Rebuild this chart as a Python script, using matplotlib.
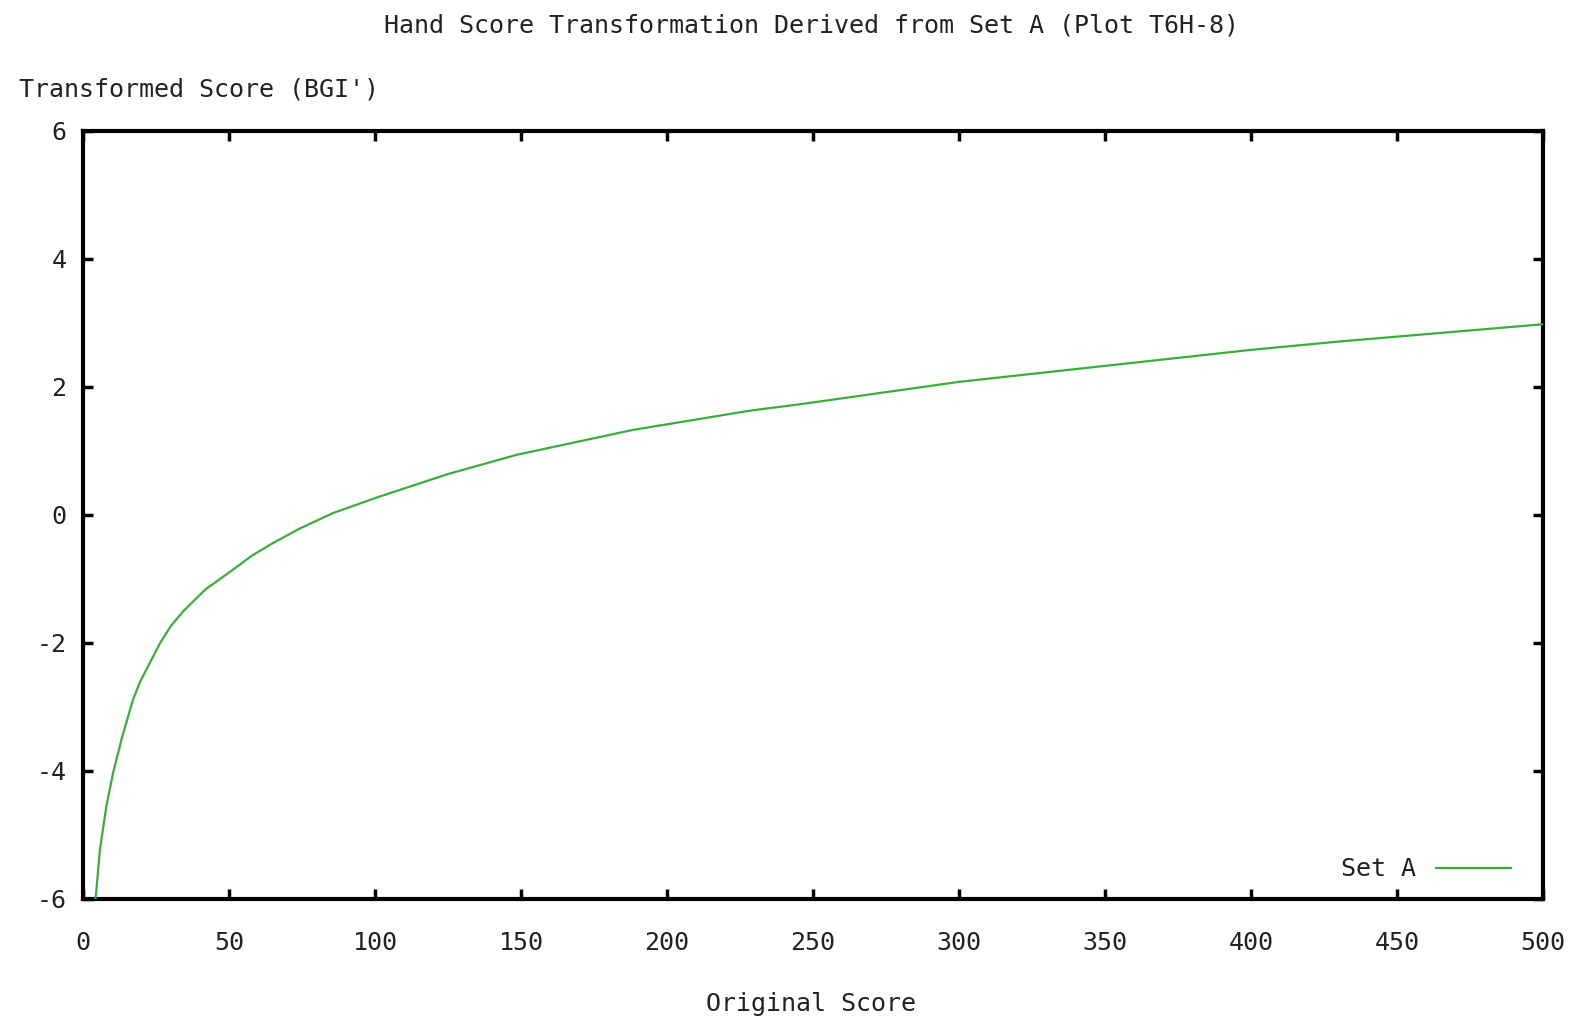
import matplotlib
matplotlib.use("Agg")
import matplotlib.pyplot as plt

# Data
orig_score = [4.0, 4.5, 5.8, 8.0, 10.3, 13.4, 17.1, 19.5, 26.4, 30.0, 34.4, 42.0, 50.3, 58.0, 65.0, 74.3,
              85.6, 101.7, 125.0, 148.5, 188.4, 228.4, 245.5, 300.0, 348.0, 400.0, 430.0, 500.0]
transformed = [-6.1, -5.9, -5.23, -4.55, -4.03, -3.47, -2.89, -2.61, -2.0, -1.74, -1.5, -1.16, -0.89,
               -0.63, -0.44, -0.21, 0.03, 0.29, 0.64, 0.94, 1.33, 1.63, 1.73, 2.08, 2.32, 2.58, 2.71, 2.98]
x_ticks = [0, 50, 100, 150, 200, 250, 300, 350, 400, 450, 500]
y_ticks = [-6, -4, -2, 0, 2, 4, 6]

title = "Hand Score Transformation Derived from Set A (Plot T6H-8)"
ylabel = "Transformed Score (BGI')"
xlabel = "Original Score"
series_name = "Set A"

FONT = "DejaVu Sans Mono"
FS = 18
TXT = "#222222"

fig = plt.figure(figsize=(15.75, 10.21), dpi=100)
ax = fig.add_axes([0.0527, 0.1195, 0.927, 0.7522])

ax.plot(orig_score, transformed, color="#3aae3a", linewidth=1.6, label=series_name, zorder=3)

ax.set_xlim(0, 500)
ax.set_ylim(-6, 6)
ax.set_xticks(x_ticks)
ax.set_yticks(y_ticks)
ax.set_xticklabels([str(v) for v in x_ticks], fontfamily=FONT, fontsize=FS, color=TXT)
ax.set_yticklabels([str(v) for v in y_ticks], fontfamily=FONT, fontsize=FS, color=TXT)
ax.tick_params(axis="both", direction="in", length=7, width=2.5, top=True, right=True,
               colors="black", labelcolor=TXT)
ax.tick_params(axis="x", pad=23)
ax.tick_params(axis="y", pad=12)

for s in ax.spines.values():
    s.set_linewidth(3)
    s.set_color("black")

fig.text(0.515, 0.975, title, ha="center", va="center", fontfamily=FONT, fontsize=FS, color=TXT)
fig.text(0.012, 0.912, ylabel, ha="left", va="center", fontfamily=FONT, fontsize=FS, color=TXT)
fig.text(0.515, 0.017, xlabel, ha="center", va="center", fontfamily=FONT, fontsize=FS, color=TXT)

leg = ax.legend(loc="lower right", frameon=False, markerfirst=False,
                prop={"family": FONT, "size": FS}, handlelength=3.0,
                bbox_to_anchor=(0.985, 0.01), borderaxespad=0.0, handletextpad=0.8)
for t in leg.get_texts():
    t.set_color(TXT)

fig.savefig("out.png", dpi=100, facecolor="white")
